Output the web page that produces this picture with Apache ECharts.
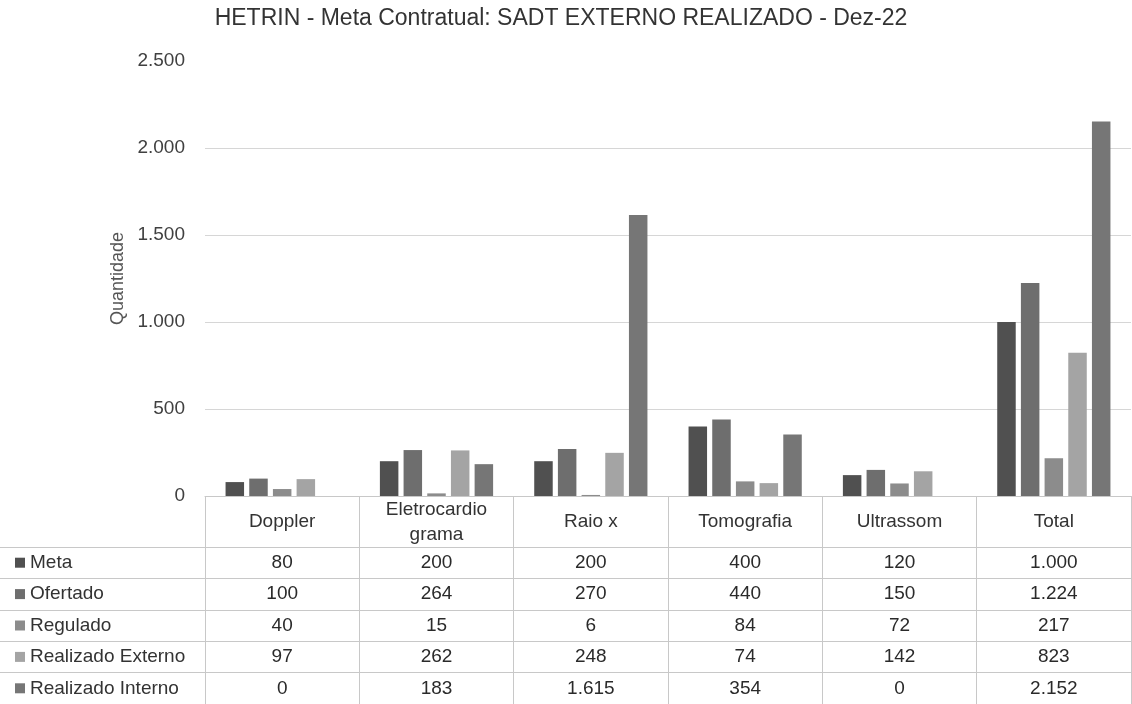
<!DOCTYPE html>
<html>
<head>
<meta charset="utf-8">
<script src="https://cdn.jsdelivr.net/npm/echarts@6/dist/echarts.min.js"></script>
<style>
  html, body { margin: 0; padding: 0; background: #fff; }
  #myChart { width: 1132px; height: 704px; }
</style>
</head>
<body>
<div id="myChart"></div>
<script>
  // categorias e séries
  var categorias = ['Doppler', 'Eletrocardio\ngrama', 'Raio x', 'Tomografia', 'Ultrassom', 'Total'];
  var nomesSeries = ['Meta', 'Ofertado', 'Regulado', 'Realizado Externo', 'Realizado Interno'];
  var meta = [80, 200, 200, 400, 120, 1000];
  var ofertado = [100, 264, 270, 440, 150, 1224];
  var regulado = [40, 15, 6, 84, 72, 217];
  var realizadoExterno = [97, 262, 248, 74, 142, 823];
  var realizadoInterno = [0, 183, 1615, 354, 0, 2152];
  var yTicks = [0, 500, 1000, 1500, 2000, 2500];

  var valores = [meta, ofertado, regulado, realizadoExterno, realizadoInterno];
  var cores = ['#505050', '#6e6e6e', '#8c8c8c', '#a4a4a4', '#767676'];
  var fonte = 'Liberation Sans, Arial, sans-serif';
  var linhaTabela = '#c8c8c8';

  function fmt(v) {
    return String(v).replace(/\B(?=(\d{3})+(?!\d))/g, '.');
  }

  var myChart = echarts.init(document.getElementById('myChart'));

  var rich = {};
  cores.forEach(function (c, i) {
    rich['m' + i] = { width: 10, height: 10, backgroundColor: c };
    rich['t' + i] = { fontSize: 19, fontFamily: fonte, color: '#333', padding: [0, 0, 0, 5] };
  });

  var series = [];
  valores.forEach(function (arr, i) {
    series.push({
      name: nomesSeries[i],
      type: 'bar',
      xAxisIndex: 0,
      yAxisIndex: 0,
      data: arr,
      barWidth: 18.5,
      barGap: '28%',
      itemStyle: { color: cores[i] }
    });
  });

  // células da tabela
  var celulas = [];
  valores.forEach(function (arr, r) {
    arr.forEach(function (v, c) {
      celulas.push([c, r, v]);
    });
  });
  series.push({
    type: 'scatter',
    xAxisIndex: 1,
    yAxisIndex: 1,
    data: celulas,
    symbolSize: 1,
    itemStyle: { color: '#fff' },
    silent: true,
    label: {
      show: true,
      position: 'inside',
      fontSize: 19,
      fontFamily: fonte,
      color: '#2a2a2a',
      opacity: 1,
      textBorderWidth: 0,
      formatter: function (p) { return fmt(p.data[2]); }
    }
  });

  myChart.setOption({
    backgroundColor: '#fff',
    animation: false,
    title: {
      text: 'HETRIN - Meta Contratual: SADT EXTERNO REALIZADO - Dez-22',
      left: 556,
      textAlign: 'center',
      top: 2,
      textStyle: { fontSize: 23, fontWeight: 'normal', fontFamily: fonte, color: '#333' }
    },
    grid: [
      { left: 205, right: 1, top: 61, height: 435 },
      { left: 205, right: 1, top: 547, bottom: 0 }
    ],
    xAxis: [
      {
        type: 'category',
        gridIndex: 0,
        data: categorias,
        axisLine: { show: true, lineStyle: { color: linhaTabela } },
        axisTick: { show: true, inside: false, length: 51, lineStyle: { color: linhaTabela } },
        axisLabel: {
          fontSize: 19,
          fontFamily: fonte,
          color: '#333',
          lineHeight: 25,
          verticalAlign: 'middle',
          margin: 26,
          interval: 0
        }
      },
      {
        type: 'category',
        gridIndex: 1,
        data: categorias,
        axisLine: { show: false },
        axisTick: { show: false },
        axisLabel: { show: false },
        splitLine: { show: true, lineStyle: { color: linhaTabela } }
      }
    ],
    yAxis: [
      {
        type: 'value',
        gridIndex: 0,
        min: yTicks[0],
        max: yTicks[yTicks.length - 1],
        interval: 500,
        name: 'Quantidade',
        nameLocation: 'middle',
        nameGap: 78,
        nameTextStyle: { fontSize: 18, fontFamily: fonte, color: '#555' },
        axisLine: { show: false },
        axisTick: { show: false },
        axisLabel: {
          fontSize: 19,
          fontFamily: fonte,
          color: '#404040',
          margin: 20,
          formatter: function (v) { return fmt(v); }
        },
        splitLine: { show: true, showMaxLine: false, lineStyle: { color: '#d6d6d6' } }
      },
      {
        type: 'category',
        gridIndex: 1,
        inverse: true,
        data: nomesSeries,
        axisLine: { show: true, lineStyle: { color: linhaTabela } },
        axisTick: { show: true, inside: false, length: 205, lineStyle: { color: linhaTabela } },
        splitLine: { show: true, lineStyle: { color: linhaTabela } },
        axisLabel: {
          align: 'left',
          margin: 190,
          formatter: function (v, i) { return '{m' + i + '|}{t' + i + '|' + v + '}'; },
          rich: rich
        }
      }
    ],
    series: series
  });
  window.onresize = myChart.resize;
</script>
</body>
</html>
